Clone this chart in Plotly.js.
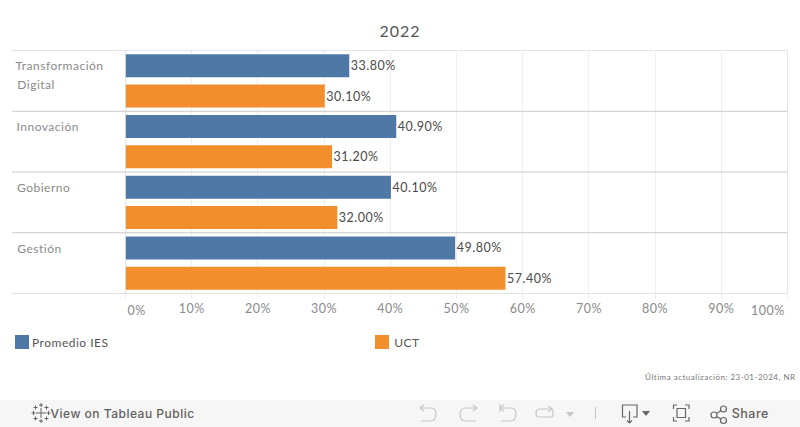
<!DOCTYPE html>
<html>
<head>
<meta charset="utf-8">
<script src="https://cdn.plot.ly/plotly-3.0.1.min.js"></script>
<style>
html,body{margin:0;padding:0;background:#fff;overflow:hidden}
#chart{width:800px;height:427px}
#chart svg text{letter-spacing:.5px}
#chart svg .gtitle{letter-spacing:1px}
</style>
</head>
<body>
<div id="chart"></div>
<script>
const title = '2022';
const categories = ['Transformación<br>Digital', 'Innovación', 'Gobierno', 'Gestión'];
const seriesNames = ['Promedio IES', 'UCT'];
const promedioIES = [33.8, 40.9, 40.1, 49.8];
const uct = [30.1, 31.2, 32.0, 57.4];
const tickValues = [0, 10, 20, 30, 40, 50, 60, 70, 80, 90, 100];
const footnote = 'Última actualización: 23-01-2024, NR';
const colors = ['#4e79a7', '#f28e2b'];

const FONT = 'Lato, "Open Sans", sans-serif';
const UI = 'Inter, Roboto, sans-serif';
const W = 800, H = 427;
const PX = v => v / W;
const PY = v => 1 - v / H;
const toPaper = d => d.replace(/([MLQHVZ])([^MLQHVZ]*)/g, (m, c, args) => {
  const n = args.trim().split(/[\s,]+/).filter(Boolean).map(Number);
  if (c === 'H') return 'H' + PX(n[0]);
  if (c === 'V') return 'V' + PY(n[0]);
  if (c === 'Z') return 'Z';
  const out = [];
  for (let i = 0; i < n.length; i += 2) out.push(PX(n[i]) + ',' + PY(n[i + 1]));
  return c + out.join(' ');
});
const paper = {xref:'paper', yref:'paper'};
const line = (x0,y0,x1,y1,color,w) => Object.assign({type:'line',x0:PX(x0),y0:PY(y0),x1:PX(x1),y1:PY(y1),line:{color,width:w||1},layer:'above'},paper);
const rect = (x0,y0,x1,y1,fill,layer) => Object.assign({type:'rect',x0:PX(x0),y0:PY(y0),x1:PX(x1),y1:PY(y1),fillcolor:fill,line:{width:0},layer:layer||'above'},paper);
const path = (d,color,w,fill) => Object.assign({type:'path',path:toPaper(d),line:{color,width:w===0?0:(w||1.2)},fillcolor:fill||'rgba(0,0,0,0)',layer:'above'},paper);
const txt = (text,x,y,size,color,anchor,family,weight) => Object.assign({x:PX(x),y:PY(y),text,showarrow:false,xanchor:anchor||'left',yanchor:'middle',font:{family:family||FONT,size,color,weight:weight||400}},paper);

const shapes = [];
const annotations = [];

// row separators
for (let i = 0; i <= categories.length; i++) {
  shapes.push({type:'line',xref:'paper',yref:'y',x0:PX(12),x1:PX(787.5),y0:i-0.5,y1:i-0.5,line:{color:'#c9c9c9',width:1},layer:'above'});
}
[0,100].forEach(v => shapes.push({type:'line',xref:'x',yref:'paper',x0:v,x1:v,y0:PY(293.5),y1:PY(50.5),line:{color:'#c9c9c9',width:1},layer:'above'}));

// row labels, left aligned
categories.forEach((c,i) => {
  c.split('<br>').forEach((part,j) => {
    annotations.push({xref:'paper',yref:'y',x:PX(16.5),y:i,text:part,showarrow:false,xanchor:'left',yanchor:'middle',
      yshift:15-j*19,font:{family:FONT,size:12,color:'#8a8a8a'}});
  });
});

// end tick labels are pulled inside the pane
annotations.push({xref:'x',yref:'paper',x:0,y:PY(310),text:'0%',showarrow:false,xanchor:'left',yanchor:'middle',font:{family:FONT,size:12.5,color:'#8a8a8a'}});
annotations.push({xref:'x',yref:'paper',x:100,y:PY(310),text:'100%',showarrow:false,xanchor:'right',xshift:-2,yanchor:'middle',font:{family:FONT,size:12.5,color:'#8a8a8a'}});

// legend
seriesNames.forEach((n,i) => {
  const lx = [15,375][i];
  shapes.push(rect(lx,335,lx+14,349,colors[i]));
  annotations.push(txt(n,lx+18,342.5,12,'#555555'));
});

// footnote
annotations.push(txt(footnote,789,377,8,'#777777','right'));

// toolbar
shapes.push(rect(0,400,800,427,'#f6f6f6','below'));
annotations.push(txt('View on Tableau Public',54,413.5,12,'#5f5f5f','left',UI,500));
annotations.push(txt('Share',731,413.5,12.5,'#5f5f5f','left',UI,500));

const dark='#666666', grey='#c6c6c6';
// tableau mark
[[41,413,8.5,5],[33.5,413,2.5,2],[48.5,413,2.5,2],[41,405,2.5,2],[41,421,2.5,2],[35.5,407.5,2,2],[46.5,407.5,2,2],[35.5,418.5,2,2],[46.5,418.5,2,2]].forEach(m=>{
  const h = m[3];
  shapes.push(line(m[0]-h,m[1],m[0]+h,m[1],dark,1));
  shapes.push(line(m[0],m[1]-h,m[0],m[1]+h,dark,1));
});
// undo / redo / revert / refresh
shapes.push(path('M421,408 H431 Q436,408 436,414 Q436,421 430,421 H421',grey));
shapes.push(path('M424,405 L420,408 L424,411',grey));
shapes.push(path('M476,408 H466 Q460,408 460,414 Q460,421 466,421 H476',grey));
shapes.push(path('M473,405 L477,408 L473,411',grey));
shapes.push(path('M501,408 H511 Q516,408 516,414 Q516,421 510,421 H501',grey));
shapes.push(path('M504,405 L500,408 L504,411 M500,404 V412',grey));
shapes.push(path('M540,409 H551 Q553,409 553,411 V415 Q553,417 551,417 H539 Q536,417 536,413 Q536,409 540,409',grey));
shapes.push(path('M548,406 L552,409 L548,412',grey));
shapes.push(path('M566,412 H574 L570,417 Z',grey,0,grey));
shapes.push(line(595.5,407,595.5,419,grey,1));
// download
shapes.push(path('M626,417 H622.5 V405 H637 V417 H633',dark));
shapes.push(path('M629.5,411 V423 M627,420.5 L629.5,423 L632,420.5',dark));
shapes.push(path('M642,411 H650 L646,416 Z',dark,0,dark));
// fullscreen
shapes.push(path('M677,405 H673.5 V409 M685,405 H689 V409 M689,417 V421 H685 M677,421 H673.5 V417',dark));
shapes.push(path('M677,408.5 H685.5 V417.5 H677 Z',dark));
// share
[[714,415],[723.5,409],[723.5,420.5]].forEach(c=>{
  shapes.push(Object.assign({type:'circle',x0:PX(c[0]-3),x1:PX(c[0]+3),y0:PY(c[1]-3),y1:PY(c[1]+3),line:{color:dark,width:1.2},layer:'above'},paper));
});
shapes.push(line(716.5,413.4,721,410.5,dark,1.2));
shapes.push(line(716.5,416.6,721,419,dark,1.2));

const mkTrace = (name,vals,color) => ({
  type:'bar',orientation:'h',name,x:vals,y:categories,
  marker:{color,line:{width:0}},
  text:vals.map(v=>v.toFixed(2)+'%'),textposition:'outside',cliponaxis:false,
  textfont:{family:FONT,size:12.5,color:'#4a4a4a'},hoverinfo:'skip'
});

Plotly.newPlot('chart',[mkTrace(seriesNames[0],promedioIES,colors[0]),mkTrace(seriesNames[1],uct,colors[1])],{
  width:W,height:H,margin:{l:0,r:0,t:0,b:0,pad:0},paper_bgcolor:'#fff',plot_bgcolor:'#fff',
  showlegend:false,barmode:'group',bargap:0,bargroupgap:0.24,
  title:{text:title,x:0.5,xanchor:'center',y:1-31/H,yanchor:'middle',font:{family:FONT,size:16,color:'#555555'}},
  xaxis:{domain:[125.5/W,787.5/W],range:[0,100],tickvals:tickValues,
    ticktext:tickValues.map(v=>(v===0||v===100)?'':v+'%'),
    tickfont:{family:FONT,size:12.5,color:'#8a8a8a'},showgrid:true,gridcolor:'#efefef',gridwidth:1,
    zeroline:false,showline:false,ticks:'outside',ticklen:3,tickcolor:'#e8e8e8',tickwidth:1,anchor:'y',automargin:false},
  yaxis:{domain:[1-293.5/H,1-50.5/H],type:'category',categoryorder:'array',categoryarray:categories,autorange:false,
    range:[categories.length-0.5,-0.5],showticklabels:false,showgrid:false,zeroline:false,showline:false,ticks:'',anchor:'x',automargin:false},
  shapes,annotations
},{displayModeBar:false,staticPlot:true});
</script>
</body>
</html>
